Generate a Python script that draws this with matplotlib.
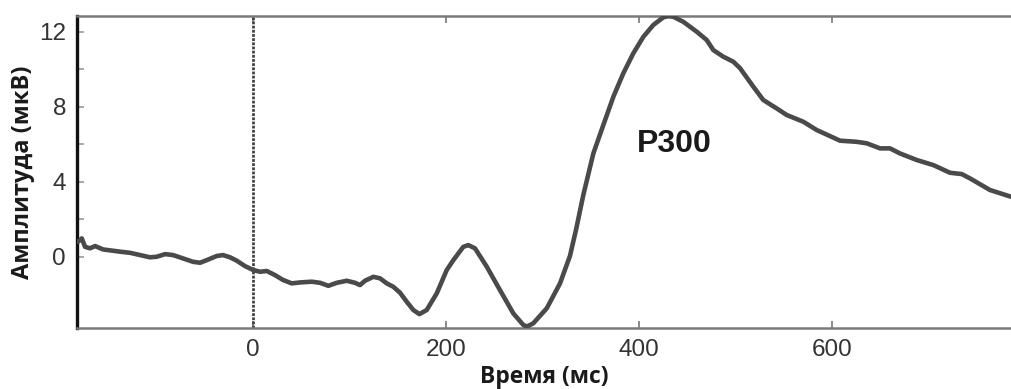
import matplotlib
matplotlib.use("Agg")
import matplotlib.pyplot as plt

# ERP waveform: time (ms) and amplitude (µV)
time_ms = [-181.0, -177.1, -173.7, -168.5, -163.3, -155.0, -137.4, -127.0, -116.7, -106.4,
           -99.4, -90.8, -82.5, -72.2, -61.8, -54.6, -47.6, -37.3, -30.8, -23.5,
           -16.6, -8.0, 0.6, 7.6, 14.5, 23.1, 31.4, 40.4, 49.0, 61.1,
           69.7, 78.3, 87.0, 97.4, 106.0, 111.1, 116.3, 124.9, 131.8, 138.8,
           145.6, 152.6, 159.5, 166.3, 172.6, 180.2, 190.6, 200.9, 207.8, 218.1,
           223.3, 230.2, 242.4, 256.1, 269.9, 280.3, 284.1, 290.6, 304.5, 318.3,
           328.6, 334.9, 342.4, 352.8, 363.1, 373.5, 383.8, 394.2, 404.6, 414.9,
           425.3, 430.1, 435.6, 446.0, 459.9, 470.2, 477.1, 487.4, 497.8, 504.7,
           518.5, 528.8, 542.7, 553.1, 570.3, 584.1, 608.3, 625.6, 636.0, 649.7,
           660.1, 670.4, 687.7, 704.9, 722.2, 734.3, 742.9, 763.6, 785.4]
amp_uv = [0.80, 0.98, 0.53, 0.45, 0.57, 0.39, 0.27, 0.21, 0.09, -0.03,
          0.00, 0.14, 0.09, -0.09, -0.27, -0.32, -0.18, 0.04, 0.09, -0.03,
          -0.21, -0.50, -0.71, -0.80, -0.76, -0.98, -1.24, -1.42, -1.37, -1.33,
          -1.39, -1.55, -1.39, -1.28, -1.39, -1.51, -1.28, -1.07, -1.15, -1.42,
          -1.60, -1.92, -2.40, -2.84, -3.06, -2.84, -1.95, -0.71, -0.18, 0.53,
          0.62, 0.45, -0.53, -1.78, -3.02, -3.64, -3.72, -3.55, -2.75, -1.42,
          0.05, 1.45, 3.29, 5.51, 7.02, 8.53, 9.78, 10.85, 11.73, 12.36,
          12.77, 12.83, 12.80, 12.53, 12.00, 11.56, 11.02, 10.67, 10.40, 10.06,
          9.07, 8.36, 7.91, 7.56, 7.20, 6.76, 6.19, 6.13, 6.05, 5.78,
          5.78, 5.51, 5.16, 4.89, 4.48, 4.41, 4.18, 3.56, 3.20]

x_ticks = [0, 200, 400, 600]
y_ticks = [0, 4, 8, 12]
y_minor = [2, 6, 10]
onset_ms = 0
label_text = "P300"
label_pos = (398, 6.0)
xlabel = "Время (мс)"
ylabel = "Амплитуда (мкВ)"

fig = plt.figure(figsize=(10.11, 3.89), dpi=100)
ax = fig.add_axes([0.0762, 0.1568, 0.9238, 0.8021])

ax.plot(time_ms, amp_uv, color="#4a4a4a", lw=3.3, solid_joinstyle="round",
        solid_capstyle="round", zorder=3)
ax.axvline(onset_ms, color="#444444", lw=2.0, linestyle=(0, (1, 0.5)), zorder=2)

ax.set_xlim(-182, 785.4)
ax.set_ylim(-3.8, 12.84)

ax.set_xticks(x_ticks)
ax.set_yticks(y_ticks)
ax.set_yticks(y_minor, minor=True)
ax.tick_params(axis="x", which="both", direction="in", length=5, width=1.2,
               color="#777777", top=True, bottom=True, pad=8,
               labelsize=17.5, labelcolor="#333333")
ax.tick_params(axis="y", which="both", direction="in", length=5, width=1.2,
               color="#999999", left=True, right=False, pad=8,
               labelsize=17.5, labelcolor="#333333")
for lab in ax.get_xticklabels() + ax.get_yticklabels():
    lab.set_fontfamily("Liberation Sans")

ax.spines["right"].set_visible(False)
ax.spines["left"].set_color("#111111")
ax.spines["left"].set_linewidth(2.4)
ax.spines["top"].set_color("#7a7a7a")
ax.spines["top"].set_linewidth(1.8)
ax.spines["bottom"].set_color("#7a7a7a")
ax.spines["bottom"].set_linewidth(1.8)

ax.text(label_pos[0], label_pos[1], label_text, fontsize=23, fontweight="bold",
        family="Liberation Sans", color="#1a1a1a", ha="left", va="center")

ax.set_xlabel(xlabel, fontsize=16.5, fontweight="bold", family="Open Sans",
              color="#1a1a1a", labelpad=3)
ax.set_ylabel(ylabel, fontsize=17, fontweight="bold", family="Open Sans",
              color="#1a1a1a", labelpad=3)

fig.savefig("out.png", dpi=100)
